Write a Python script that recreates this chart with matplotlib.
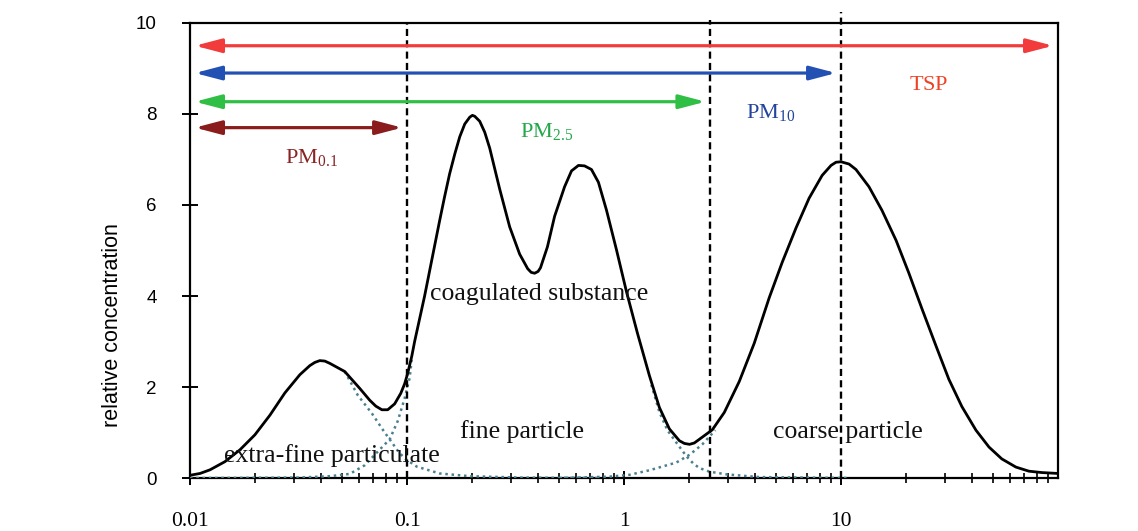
import matplotlib
matplotlib.use("Agg")
import matplotlib.pyplot as plt

# ---------------- data ----------------
# particle diameter given as log10(µm), concentration in relative units
total_logd = [-2.000, -1.954, -1.908, -1.839, -1.770, -1.701, -1.632, -1.563, -1.494,
              -1.448, -1.425, -1.402, -1.379, -1.356, -1.287, -1.218, -1.172, -1.144,
              -1.116, -1.089, -1.057, -1.029, -1.011, -0.997, -0.978, -0.965, -0.942,
              -0.919, -0.896, -0.873, -0.850, -0.827, -0.804, -0.780, -0.757, -0.734,
              -0.711, -0.699, -0.688, -0.665, -0.642, -0.619, -0.573, -0.527, -0.481,
              -0.444, -0.428, -0.412, -0.396, -0.385, -0.353, -0.320, -0.274, -0.242,
              -0.210, -0.182, -0.150, -0.118, -0.081, -0.035, 0.011, 0.062, 0.117,
              0.163, 0.209, 0.255, 0.278, 0.302, 0.324, 0.347, 0.407, 0.462, 0.531,
              0.600, 0.669, 0.729, 0.793, 0.853, 0.913, 0.954, 0.977, 1.000, 1.037,
              1.069, 1.129, 1.189, 1.254, 1.313, 1.373, 1.438, 1.497, 1.557, 1.622,
              1.682, 1.741, 1.806, 1.866, 1.925, 2.000]
total_conc = [0.06, 0.10, 0.18, 0.36, 0.62, 0.95, 1.38, 1.87, 2.27,
              2.47, 2.54, 2.58, 2.57, 2.52, 2.34, 1.97, 1.71, 1.58,
              1.50, 1.50, 1.63, 1.86, 2.07, 2.30, 2.68, 3.00, 3.50,
              4.00, 4.55, 5.10, 5.65, 6.18, 6.68, 7.12, 7.50, 7.78,
              7.93, 7.97, 7.95, 7.84, 7.60, 7.25, 6.35, 5.52, 4.92,
              4.60, 4.52, 4.50, 4.54, 4.62, 5.08, 5.75, 6.40, 6.75,
              6.87, 6.86, 6.78, 6.50, 5.89, 5.02, 4.10, 3.18, 2.25,
              1.55, 1.08, 0.82, 0.76, 0.74, 0.77, 0.85, 1.06, 1.44, 2.12,
              2.96, 3.96, 4.74, 5.50, 6.15, 6.65, 6.87, 6.94, 6.95, 6.90,
              6.78, 6.40, 5.88, 5.22, 4.50, 3.72, 2.90, 2.17, 1.57, 1.05,
              0.68, 0.42, 0.24, 0.15, 0.12, 0.10]

# dotted component modes (only the parts that leave the total curve)
extrafine_logd = [-1.287, -1.227, -1.162, -1.103, -1.080, -1.043, -1.011, -0.955, -0.850, -0.711, -0.481, -0.113]
extrafine_conc = [2.34, 1.82, 1.42, 1.00, 0.85, 0.60, 0.43, 0.25, 0.10, 0.04, 0.01, 0.0]

fine_rise_logd = [-2.000, -1.494, -1.356, -1.264, -1.195, -1.135, -1.080, -1.043, -1.011, -0.988, -0.978]
fine_rise_conc = [0.0, 0.01, 0.04, 0.09, 0.28, 0.58, 0.85, 1.25, 1.75, 2.20, 2.62]

fine_fall_logd = [0.126, 0.163, 0.200, 0.241, 0.269, 0.287, 0.319, 0.347, 0.393, 0.472, 0.623, 1.037]
fine_fall_conc = [2.05, 1.45, 1.05, 0.78, 0.60, 0.48, 0.32, 0.22, 0.14, 0.08, 0.02, 0.0]

coarse_rise_logd = [-0.297, -0.067, 0.025, 0.117, 0.241, 0.302, 0.361, 0.407, 0.421]
coarse_rise_conc = [0.0, 0.03, 0.07, 0.17, 0.34, 0.51, 0.74, 0.98, 1.05]

# size-class bounds (µm) and labels
class_upper = [100.0, 10.0, 2.5, 0.1]
class_lower = 0.01
boundaries = [0.1, 2.5, 10.0]

x_ticks = [0.01, 0.1, 1, 10]
x_ticklabels = ["0.01", "0.1", "1", "10"]
y_ticks = [0, 2, 4, 6, 8, 10]
y_label = "relative concentration"

region_labels = ["extra-fine particulate", "fine particle", "coagulated substance", "coarse particle"]


def to_um(logs):
    return [10.0 ** v for v in logs]


# ---------------- styling ----------------
plt.rcParams["mathtext.fontset"] = "custom"
plt.rcParams["mathtext.rm"] = "Liberation Serif"
plt.rcParams["mathtext.it"] = "Liberation Serif:italic"
plt.rcParams["mathtext.bf"] = "Liberation Serif:bold"

fig = plt.figure(figsize=(11.38, 5.31), dpi=100)
ax = fig.add_axes([0.167, 0.0998, 0.7627, 0.8569])
ax.set_xscale("log")
ax.set_xlim(0.01, 100)
ax.set_ylim(0, 10)

# total curve
ax.plot(to_um(total_logd), total_conc, color="black", lw=2.0, zorder=5,
        solid_joinstyle="round", solid_capstyle="round")

# component modes (dotted)
dot_col = "#4a7f90"
for d, c in [(extrafine_logd, extrafine_conc), (fine_rise_logd, fine_rise_conc),
             (fine_fall_logd, fine_fall_conc), (coarse_rise_logd, coarse_rise_conc)]:
    ax.plot(to_um(d), c, color=dot_col, lw=1.8, ls=(0, (1, 1.5)), zorder=4)

# vertical dashed boundaries
tops = [10.0, 10.07, 10.25]
for b, t in zip(boundaries, tops):
    ax.plot([b, b], [0, t], color="black", lw=1.7, ls=(0, (3, 1.8)),
            clip_on=False, zorder=6)

# arrows for size classes
arrow_cols = ["#f23b3b", "#2251b3", "#2fbf45", "#8a1c1c"]
arrow_y = [9.5, 8.9, 8.27, 7.7]
for up, col, yy in zip(class_upper, arrow_cols, arrow_y):
    ax.annotate("", xy=(up, yy), xytext=(class_lower, yy),
                arrowprops=dict(arrowstyle="<|-|>,head_length=1.6,head_width=0.42",
                                color=col, lw=2.3, shrinkA=3.5, shrinkB=3.5),
                zorder=7)

# class labels
lab_cols = ["#ee4126", "#23449c", "#21a84a", "#8a2424"]
lab_pos = [(20.6, 8.53), (3.66, 7.91), (0.330, 7.49), (0.02735, 6.92)]
lab_texts = [r"$\mathrm{TSP}$", r"$\mathrm{PM}_{\mathrm{10}}$",
             r"$\mathrm{PM}_{\mathrm{2.5}}$", r"$\mathrm{PM}_{\mathrm{0.1}}$"]
for t, col, (px, py) in zip(lab_texts, lab_cols, lab_pos):
    ax.text(px, py, t, color=col, fontsize=16, ha="left", va="baseline", zorder=8)

# region labels
reg_pos = [(0.045, 0.36), (0.337, 0.89), (0.408, 3.91), (10.78, 0.87)]
for t, (px, py) in zip(region_labels, reg_pos):
    ax.text(px, py, t, fontsize=18.5, family="Liberation Serif", ha="center",
            va="baseline", color="#111111", zorder=8)

# axes / ticks
for s in ax.spines.values():
    s.set_linewidth(1.6)
ax.set_xticks(x_ticks)
ax.set_xticklabels(x_ticklabels, family="Liberation Serif", fontsize=15.5)
minor = [m * 10.0 ** e for e in (-2, -1, 0, 1) for m in range(2, 10)]
ax.set_xticks(minor, minor=True)
ax.set_xticklabels([], minor=True)
ax.set_yticks(y_ticks)
ax.set_yticklabels([str(v) for v in y_ticks], family="Liberation Sans", fontsize=13.5)
ax.tick_params(axis="x", which="major", direction="inout", length=9.5, width=1.4, pad=20,
               top=False)
ax.tick_params(axis="x", which="minor", direction="inout", length=7, width=1.2, top=False)
ax.tick_params(axis="y", which="major", direction="inout", length=12, width=1.4, pad=18,
               right=False)
fig.text(112 / 1138, 1 - 325 / 531, y_label, family="Liberation Sans", fontsize=15.5,
         rotation=90, ha="center", va="center")

fig.savefig("out.png", dpi=100)
